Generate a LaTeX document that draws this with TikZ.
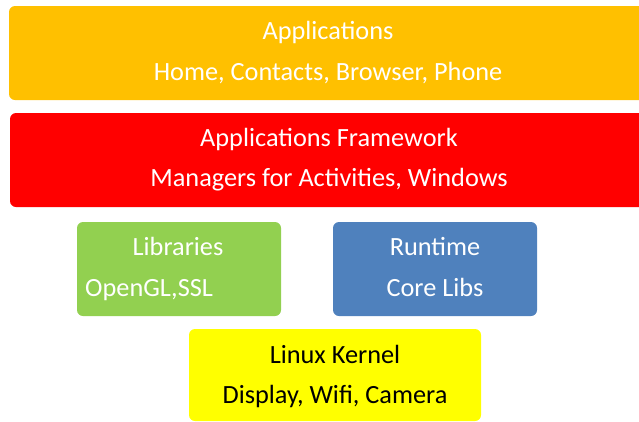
\documentclass[tikz,border=0pt]{standalone}
\usepackage{fontspec}
\setmainfont{Carlito}
\definecolor{appcol}{HTML}{FFC000}
\definecolor{fwcol}{HTML}{FF0000}
\definecolor{libcol}{HTML}{92D050}
\definecolor{rtcol}{HTML}{4F81BD}
\definecolor{kercol}{HTML}{FFFF00}
\begin{document}
\begin{tikzpicture}[x=1pt,y=-1pt,
    layer/.style={rounded corners=6pt, inner sep=0pt},
    txt/.style={anchor=base, inner sep=0pt, text=white, font=\fontsize{26.3}{30}\selectfont}]
% \draw [help lines] (0,0) grid (639,421) ;
\clip (0,0) rectangle (639,421) ;

\node [layer, fill=appcol, minimum width=640pt, minimum height=94pt] (apps) at (329,53) {} ;
\node [layer, fill=fwcol,  minimum width=640pt, minimum height=94pt] (fw)   at (330,160) {} ;
\node [layer, fill=libcol, minimum width=204pt, minimum height=94pt] (libs) at (179,269) {} ;
\node [layer, fill=rtcol,  minimum width=204pt, minimum height=94pt] (rt)   at (435,269) {} ;
\node [layer, fill=kercol, minimum width=292pt, minimum height=92pt] (ker)  at (335,375) {} ;

\node [txt] (appsA) at (328,39)  {Applications} ;
\node [txt] (appsB) at (328,80)  {Home, Contacts, Browser, Phone} ;

\node [txt] (fwA) at (329,146) {Applications Framework} ;
\node [txt] (fwB) at (329,186) {Managers for Activities, Windows} ;

\node [txt] (libsA) at (178,255) {Libraries} ;
\node [txt, anchor=base west] (libsB) at (85,296) {OpenGL,SSL} ;

\node [txt] (rtA) at (435,255) {Runtime} ;
\node [txt] (rtB) at (435,296) {Core Libs} ;

\node [txt, text=black] (kerA) at (335,363) {Linux Kernel} ;
\node [txt, text=black] (kerB) at (335,403) {Display, Wifi, Camera} ;
\end{tikzpicture}
\end{document}
